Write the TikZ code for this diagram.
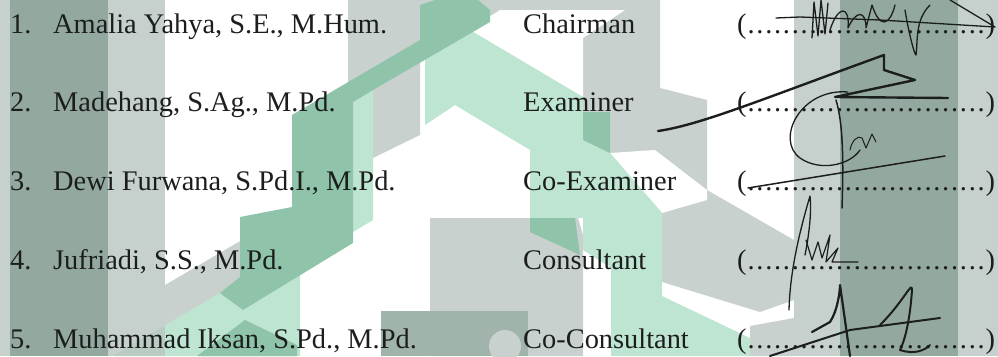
\documentclass[tikz,border=0pt]{standalone}
\usepackage{fontspec}
\setmainfont{Liberation Serif}
\definecolor{inkBlack}{RGB}{28,30,29}
\definecolor{wmGray}{RGB}{201,209,206}
\definecolor{wmGreen}{RGB}{143,196,170}
\definecolor{wmPale}{RGB}{190,229,210}
\definecolor{bandDark}{RGB}{120,148,135}
\definecolor{bandLight}{RGB}{184,197,192}
\begin{document}
\begin{tikzpicture}[x=1pt, y=-1pt,
    font=\fontsize{28.4}{34}\selectfont,
    entry/.style={anchor=base west, inner sep=0pt, text=inkBlack},
    sig/.style={draw=inkBlack, line width=1.3pt, line cap=round, line join=round},
    band/.style={fill opacity=0.8}]
  \useasboundingbox (0,0) rectangle (998,356);

  % Watermark: gray pieces
  \fill[wmGray] (348,0) -- (660,0) -- (660,88) -- (707,100) -- (707,190) -- (794,240)
    -- (794,300) -- (760,312) -- (662,282) -- (662,215) -- (583,160) -- (583,95)
    -- (490,15) -- (420,55) -- (420,135) -- (373,158) -- (348,170) -- cycle;
  \fill[white] (472,28) -- (500,10) -- (625,10) -- (583,38) -- (583,97) -- cycle;
  \fill[white] (610,153) -- (655,150) -- (707,190) -- (707,200) -- (662,213) -- cycle;
  \fill[wmGray] (165,285) -- (353,175) -- (353,225) -- (243,312) -- (165,330) -- cycle;
  \fill[wmGray] (430,218) -- (578,218) -- (583,235) -- (583,356) -- (430,356) -- cycle;
  \fill[wmGray] (750,326) -- (794,318) -- (794,356) -- (750,356) -- cycle;
  \fill[bandDark!70] (381,311) rectangle (528,356);
  \fill[wmGray] (505,346) circle (16);

  % Watermark: green pieces
  \fill[wmPale] (425,58) -- (470,30) -- (583,97) -- (583,140) -- (610,153) -- (662,213)
    -- (662,296) -- (750,338) -- (750,356) -- (611,356) -- (611,268) -- (583,250)
    -- (583,218) -- (530,218) -- (530,150) -- (455,105) -- (425,125) -- cycle;
  \fill[wmPale] (353,102) -- (373,90) -- (373,220) -- (353,232) -- cycle;
  \fill[wmPale] (113,356) -- (220,293) -- (243,310) -- (300,275) -- (300,356) -- cycle;
  \fill[wmGreen] (292,115) -- (420,40) -- (420,5) -- (435,0) -- (478,0) -- (490,10)
    -- (490,22) -- (373,90) -- (353,102) -- (353,243) -- (243,310) -- (220,293)
    -- (240,277) -- (240,217) -- (292,207) -- cycle;
  \fill[wmGreen] (530,218) -- (575,218) -- (580,255) -- (530,232) -- cycle;
  \fill[wmGreen] (583,112) -- (610,112) -- (610,153) -- (583,140) -- cycle;
  \fill[wmGreen] (197,356) -- (245,320) -- (297,345) -- (297,356) -- cycle;

  % Watermark: vertical bands
  \fill[bandLight, band] (0,0) rectangle (10,356);
  \fill[bandDark, band] (10,0) rectangle (108,356);
  \fill[bandLight, band] (108,0) rectangle (165,356);
  \fill[bandLight, band] (794,0) rectangle (840,356);
  \fill[bandDark, band] (840,0) rectangle (958,356);
  \fill[bandLight, band] (958,0) rectangle (998,356);

  % Row spacing
  \def\rowGap{78.75}

  % Committee rows
  \foreach \n/\who/\task in {1/{Amalia Yahya, S.E., M.Hum.}/Chairman,
                             2/{Madehang, S.Ag., M.Pd.}/Examiner,
                             3/{Dewi Furwana, S.Pd.I., M.Pd.}/Co-Examiner,
                             4/{Jufriadi, S.S., M.Pd.}/Consultant,
                             5/{Muhammad Iksan, S.Pd., M.Pd.}/Co-Consultant}{
      % Baseline of this row
      \pgfmathsetmacro{\rowY}{33+\rowGap*(\n-1)}
      \node[entry] (num\n) at (10,\rowY) {\n.};
      \node[entry] (name\n) at (53,\rowY) {\who};
      \node[entry] (role\n) at (523,\rowY) {\task};
      \node[entry] (sign\n) at (737,\rowY)
        {(\xleaders\hbox to 8.7pt{\hss.\hss}\hskip 239pt)};
    }

  % Signatures
  \draw[sig] (776,18) -- (800,17) -- (880,20) -- (995,27) -- (950,0);
  \draw[sig] (812,38) -- (814,2) -- (818,36) -- (821,0) -- (825,34) -- (828,3);
  \draw[sig] (830,30) .. controls (838,5) and (850,5) .. (848,28)
    .. controls (856,10) and (866,10) .. (866,28) -- (872,5)
    .. controls (880,30) and (890,25) .. (895,5);
  \draw[sig] (905,10) .. controls (910,40) and (915,55) .. (916,55)
    .. controls (918,40) and (915,20) .. (930,5);

  \draw[sig, line width=2.4pt] (658,131) .. controls (700,125) and (760,100) .. (884,55)
    -- (884,70) -- (915,80) -- (835,97) -- (948,98);

  \draw[sig] (848,92) .. controls (800,88) and (775,140) .. (800,158)
    .. controls (820,172) and (850,165) .. (860,150);
  \draw[sig, line width=1.5pt] (836,100) .. controls (842,120) and (844,150) .. (842,208);
  \draw[sig, line width=1pt] (850,150) .. controls (852,140) and (858,135) .. (862,138)
    -- (866,148) -- (872,134) -- (876,142);
  \draw[sig, line width=1.5pt] (748,188) -- (945,156);

  \draw[sig] (789,310) .. controls (790,270) and (800,230) .. (810,196)
    .. controls (812,215) and (808,240) .. (805,255);
  \draw[sig, line width=1.2pt] (806,240) -- (812,260) -- (818,242) -- (822,258)
    -- (830,235) -- (826,262) -- (838,248) -- (832,262) -- (858,262);

  \draw[sig, line width=2.2pt] (812,332) -- (830,322)
    .. controls (838,310) and (840,290) .. (840,285) -- (850,356);
  \draw[sig, line width=2pt] (880,325) .. controls (905,300) and (912,280) .. (912,290)
    .. controls (910,320) and (905,340) .. (900,350)
    .. controls (915,355) and (925,350) .. (930,345);
  \draw[sig, line width=2pt] (770,356) -- (850,330) -- (940,318);
\end{tikzpicture}
\end{document}
